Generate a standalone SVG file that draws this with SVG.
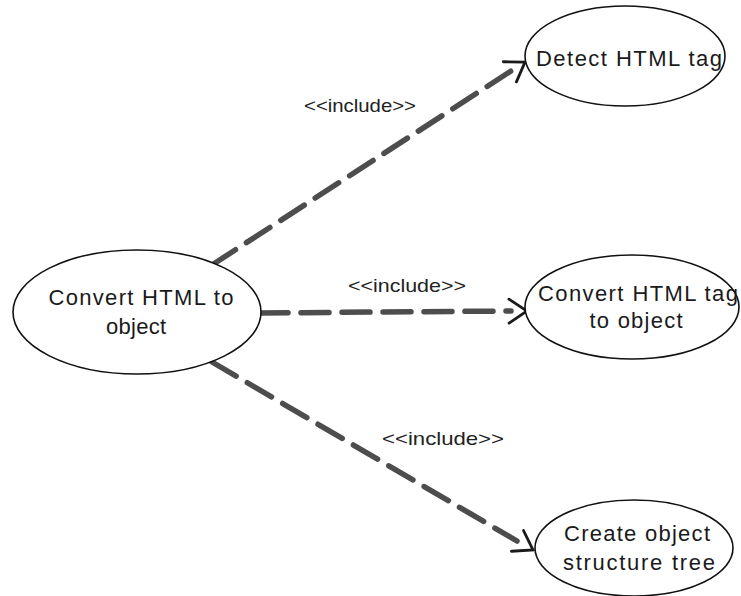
<svg xmlns="http://www.w3.org/2000/svg" width="741" height="596" viewBox="0 0 741 596">
<defs>
<style>
.uc ellipse{fill:#fff;stroke:#111;stroke-width:1.6}
.uc text{font-family:"Liberation Sans",Arial,sans-serif;font-size:22px;fill:#1a1a1a;text-anchor:middle}
.lbl{font-family:"Liberation Sans",Arial,sans-serif;font-size:19px;fill:#222;text-anchor:middle}
.dep{fill:none;stroke:#4d4d4d;stroke-width:5.5;stroke-dasharray:28 13;stroke-linecap:round}
.head{fill:none;stroke:#1a1a1a;stroke-width:2.8;stroke-linecap:round}
</style>
<marker id="open" viewBox="-22 -15 24 30" refX="0" refY="0" markerWidth="24" markerHeight="30" markerUnits="userSpaceOnUse" orient="auto">
<path class="head" d="M-18,-12 L0,0 L-18,12"/>
</marker>
</defs>
<rect width="741" height="596" fill="#fff"/>
<g id="connectors">
<path class="dep" d="M212,265 L514,69"/>
<path d="M212,265 L525,62" fill="none" stroke="none" marker-end="url(#open)"/>
<path class="dep" d="M260,313 L511,311"/>
<path d="M260,313 L527,311" fill="none" stroke="none" marker-end="url(#open)"/>
<path class="dep" d="M212,362 L517,541"/>
<path d="M212,362 L533,550" fill="none" stroke="none" marker-end="url(#open)"/>
<text class="lbl" x="360" y="112" textLength="112" lengthAdjust="spacingAndGlyphs">&lt;&lt;include&gt;&gt;</text>
<text class="lbl" x="407" y="292" textLength="118" lengthAdjust="spacingAndGlyphs">&lt;&lt;include&gt;&gt;</text>
<text class="lbl" x="443" y="445" textLength="122" lengthAdjust="spacingAndGlyphs">&lt;&lt;include&gt;&gt;</text>
</g>
<g id="convert-html" class="uc">
<ellipse cx="137" cy="312" rx="124" ry="62"/>
<text x="141" y="305" textLength="185" lengthAdjust="spacing">Convert HTML to</text>
<text x="136" y="334" textLength="60" lengthAdjust="spacing">object</text>
</g>
<g id="detect-tag" class="uc">
<ellipse cx="625" cy="56" rx="100" ry="50"/>
<text x="629" y="66" textLength="186" lengthAdjust="spacing">Detect HTML tag</text>
</g>
<g id="convert-tag" class="uc">
<ellipse cx="632" cy="307" rx="107" ry="52"/>
<text x="638" y="301" textLength="200" lengthAdjust="spacing">Convert HTML tag</text>
<text x="636" y="328" textLength="93" lengthAdjust="spacing">to object</text>
</g>
<g id="create-tree" class="uc">
<ellipse cx="634" cy="548" rx="99" ry="48"/>
<text x="637" y="541" textLength="146" lengthAdjust="spacing">Create object</text>
<text x="639" y="570" textLength="152" lengthAdjust="spacing">structure tree</text>
</g>
</svg>
